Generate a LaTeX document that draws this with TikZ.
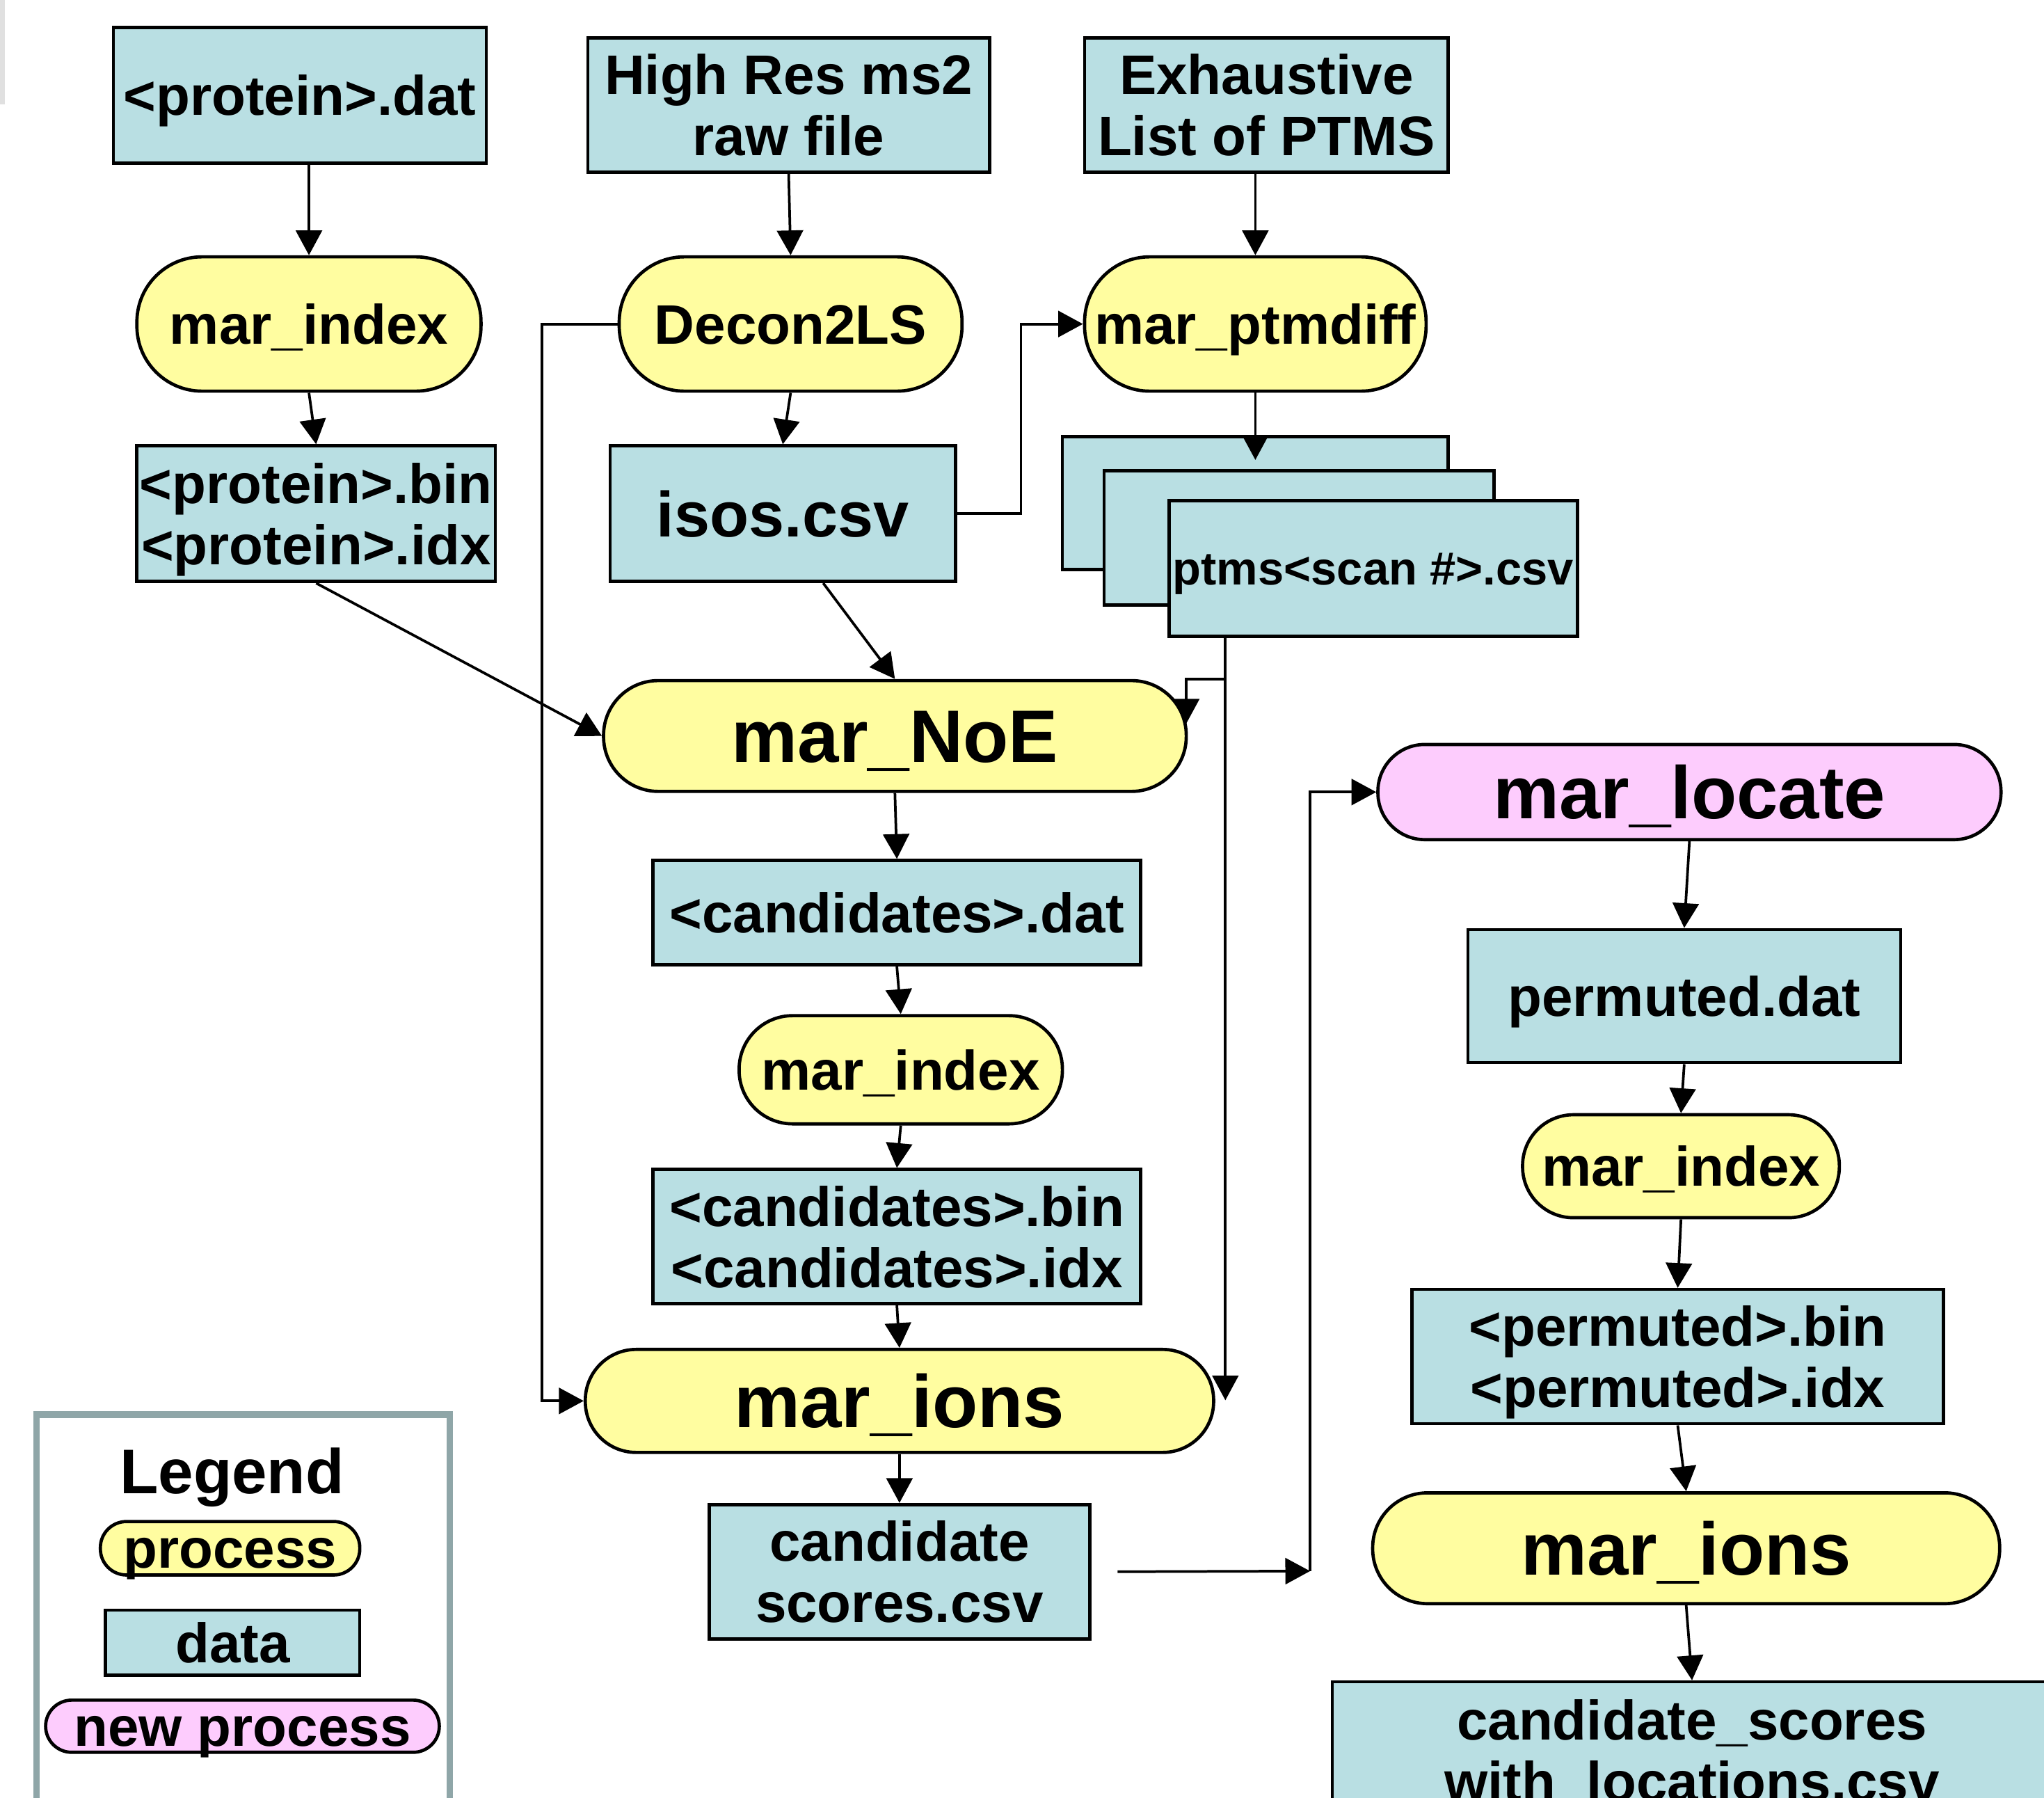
\documentclass[tikz,border=0pt]{standalone}
\usepackage{fontspec}
\setmainfont{Liberation Sans}
\usetikzlibrary{arrows.meta}
\definecolor{datafill}{RGB}{185,223,227}
\definecolor{procfill}{RGB}{255,253,160}
\definecolor{newfill}{RGB}{253,204,253}
\definecolor{legframe}{RGB}{143,166,168}
\newcommand\fa{\fontsize{42.7}{47}\selectfont\bfseries}
\newcommand\fb{\fontsize{57}{60}\selectfont\bfseries}
\newcommand\fiso{\fontsize{49}{52}\selectfont\bfseries}
\newcommand\fleg{\fontsize{48.4}{52}\selectfont\bfseries}
\newcommand\fptm{\fontsize{35.7}{40}\selectfont\bfseries}
\tikzset{
  databox/.style={draw, line width=2.5pt, fill=datafill, rectangle, inner sep=0pt, align=center, font=\fa, text depth=0pt},
  procbox/.style={draw, line width=2.5pt, fill=procfill, rectangle, inner sep=0pt, align=center, font=\fa, text depth=0pt},
  newbox/.style={draw, line width=2.5pt, fill=newfill, rectangle, inner sep=0pt, align=center, font=\fa, text depth=0pt},
  capa/.style={text height=30.6pt},
  capb/.style={text height=40.8pt},
  capiso/.style={text height=35.1pt},
  capptm/.style={text height=25.6pt},
  arr/.style={-{Triangle[length=19pt,width=20pt]}, line width=2pt}
}
\begin{document}
\begin{tikzpicture}[x=1pt,y=-1pt]
\useasboundingbox (0,0) rectangle (1568,1379);
\clip (0,0) rectangle (1568,1379);
\fill[white] (0,0) rectangle (1568,1379);
\fill[black!12] (0,0) rectangle (4,80);

% top row
\node[databox, capa, minimum width=286pt, minimum height=104pt] (pdat) at (230,73) {<protein>.dat};
\node[databox, minimum width=308pt, minimum height=103pt] (hires) at (605,80.5) {High Res ms2\\raw file};
\node[databox, minimum width=279pt, minimum height=103pt] (exh) at (971.5,80.5) {Exhaustive\\List of PTMS};

% processes row 2
\node[procbox, capa, rounded corners=50pt, minimum width=264pt, minimum height=103pt] (mi1) at (237,248.5) {mar\_index};
\node[procbox, capa, rounded corners=50pt, minimum width=263pt, minimum height=103pt] (decon) at (606.5,248.5) {Decon2LS};
\node[procbox, capa, rounded corners=50pt, minimum width=262pt, minimum height=103pt] (ptmdiff) at (963,248.5) {mar\_ptmdiff};

% data row 3
\node[databox, minimum width=275pt, minimum height=104pt] (pbin) at (242.5,394) {<protein>.bin\\<protein>.idx};
\node[databox, font=\fiso, capiso, minimum width=265pt, minimum height=104pt] (isos) at (600.5,394) {isos.csv};
\node[databox, minimum width=296pt, minimum height=102pt] (ptA) at (963,386) {};
\node[databox, minimum width=299pt, minimum height=103pt] (ptB) at (996.5,412.5) {};
\node[databox, font=\fptm, capptm, minimum width=313pt, minimum height=104pt] (ptC) at (1053.5,436) {ptms<scan \#>.csv};

% middle column
\node[procbox, font=\fb, capb, rounded corners=42pt, minimum width=447pt, minimum height=85pt] (noe) at (686.5,564.5) {mar\_NoE};
\node[databox, capa, minimum width=374pt, minimum height=80pt] (cdat) at (688,700) {<candidates>.dat};
\node[procbox, capa, rounded corners=41pt, minimum width=248pt, minimum height=83pt] (mi2) at (691,820.5) {mar\_index};
\node[databox, minimum width=374pt, minimum height=103pt] (cbin) at (688,948.5) {<candidates>.bin\\<candidates>.idx};
\node[procbox, font=\fb, capb, rounded corners=39pt, minimum width=482pt, minimum height=79pt] (ions1) at (690,1074.5) {mar\_ions};
\node[databox, minimum width=292pt, minimum height=103pt] (cscores) at (690,1205.5) {candidate\\scores.csv};

% right column
\node[newbox, font=\fb, capb, rounded corners=36pt, minimum width=478pt, minimum height=73pt] (locate) at (1296,607.5) {mar\_locate};
\node[databox, capa, minimum width=332pt, minimum height=102pt] (perm) at (1292,764) {permuted.dat};
\node[procbox, capa, rounded corners=39pt, minimum width=243pt, minimum height=79pt] (mi3) at (1289.5,894.5) {mar\_index};
\node[databox, minimum width=408pt, minimum height=103pt] (pbin2) at (1287,1040.5) {<permuted>.bin\\<permuted>.idx};
\node[procbox, font=\fb, capb, rounded corners=42pt, minimum width=481pt, minimum height=85pt] (ions2) at (1293.5,1187.5) {mar\_ions};
\node[databox, minimum width=552pt, minimum height=105pt] (cswl) at (1298,1342.5) {candidate\_scores\\with\_locations.csv};

% legend
\draw[legframe, line width=5pt] (28,1420) -- (28,1085) -- (345,1085) -- (345,1420);
\node[font=\fleg, text height=34.7pt, text depth=0pt, inner sep=0pt] (legt) at (178,1128) {Legend};
\node[procbox, capa, rounded corners=20pt, minimum width=199pt, minimum height=41pt] (lp) at (176.5,1187.5) {process};
\node[databox, capa, minimum width=195pt, minimum height=50pt] (ld) at (178.5,1260) {data};
\node[newbox, capa, rounded corners=20pt, minimum width=302pt, minimum height=40pt] (lnp) at (186,1324) {new process};

% connectors
\draw[arr] (pdat.south -| mi1.north) -- (mi1.north);
\draw[arr] (mi1.south) -- (pbin.north);
\draw[arr] (pbin.south) -- (noe.west);
\draw[arr] (hires.south) -- (decon.north);
\draw[arr] (decon.south) -- (isos.north);
\draw[arr] (decon.west) -- ++(-58,0) |- (ions1.west);
\draw[arr] ([xshift=31pt]isos.south) -- (noe.north);
\draw[arr] (isos.east) -- ++(49,0) |- (ptmdiff.west);
\draw[arr] (exh.south -| ptmdiff.north) -- (ptmdiff.north);
\draw[arr] (ptmdiff.south) -- ([yshift=-19pt]ptA.north);

\coordinate (vend) at (940,1074);
\coordinate (br) at (940,521);
\coordinate (brend) at (910,555);
\draw[arr] (ptC.south -| vend) -- (vend);
\draw[arr] (br) -| (brend);

\draw[arr] (noe.south) -- (cdat.north);
\draw[arr] (cdat.south) -- (mi2.north);
\draw[arr] (mi2.south) -- (cbin.north);
\draw[arr] (cbin.south) -- (ions1.north);
\draw[arr] (ions1.south) -- (cscores.north);

\coordinate (turn) at (1005,1205);
\draw[arr] ([xshift=20pt]cscores.east) -- (turn);
\draw[arr] (turn) |- (locate.west);

\draw[arr] (locate.south) -- (perm.north);
\draw[arr] (perm.south) -- (mi3.north);
\draw[arr] (mi3.south) -- (pbin2.north);
\draw[arr] (pbin2.south) -- (ions2.north);
\draw[arr] (ions2.south) -- (cswl.north);
\end{tikzpicture}
\end{document}
